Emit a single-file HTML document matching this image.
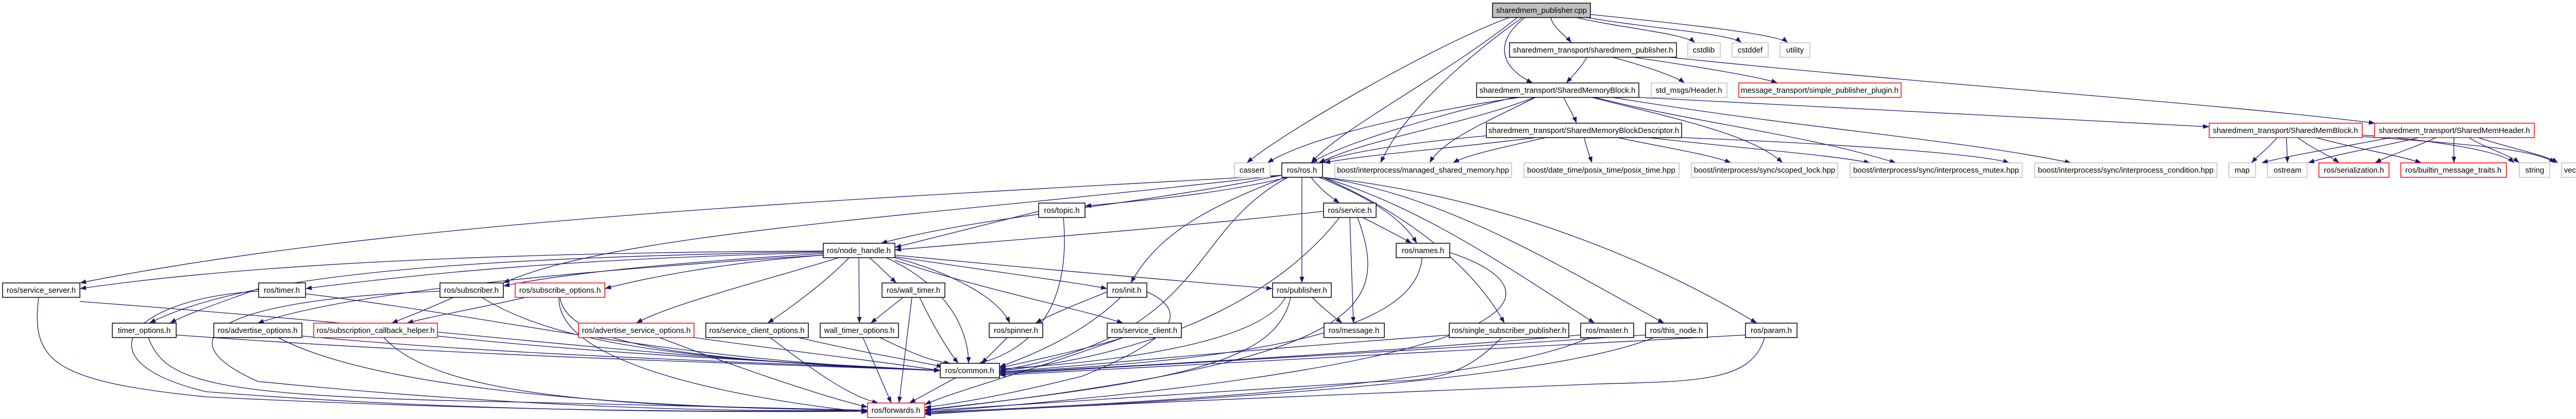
<!DOCTYPE html>
<html><head><meta charset="utf-8"><style>
html,body{margin:0;padding:0;background:#fff;}
svg{display:block;}
text{font-family:"Liberation Sans",sans-serif;font-size:15px;fill:#000;text-anchor:middle;}
.e{fill:none;stroke:#191970;stroke-width:1.3;marker-end:url(#a);}
.b{fill:#fff;stroke:#000;stroke-width:1.5;}
.r{fill:#fff;stroke:#ff0000;stroke-width:1.5;}
.g{fill:#fff;stroke:#bfbfbf;stroke-width:1.5;}
</style></head><body>
<svg width="5028" height="813" viewBox="0 0 5028 813" xmlns="http://www.w3.org/2000/svg">
<defs><marker id="a" markerUnits="userSpaceOnUse" markerWidth="13" markerHeight="10" refX="12" refY="4.5" orient="auto"><path d="M0,0 L12,4.5 L0,9 z" fill="#191970"/></marker></defs>
<g>
<path class="e" d="M3010 34 C3015 55 3040 70 3050 83"/>
<path class="e" d="M3060 34 C3150 55 3270 65 3290 83"/>
<path class="e" d="M3080 34 C3200 55 3360 65 3380 83"/>
<path class="e" d="M3087 28 C3250 45 3450 65 3470 83"/>
<path class="e" d="M2960 34 C2900 80 2910 130 2975 161"/>
<path class="e" d="M2955 34 C2860 100 2720 220 2680 316"/>
<path class="e" d="M2930 34 C2800 80 2500 250 2420 316"/>
<path class="e" d="M2945 34 C2800 150 2600 250 2545 316"/>
<path class="e" d="M3080 111 C3070 130 3050 150 3040 161"/>
<path class="e" d="M3130 111 C3200 130 3255 150 3270 161"/>
<path class="e" d="M3170 111 C3300 130 3420 150 3450 161"/>
<path class="e" d="M3240 111 C3700 160 4300 200 4610 239"/>
<path class="e" d="M2940 189 C2800 220 2600 280 2545 316"/>
<path class="e" d="M2978 189 C2850 240 2650 270 2560 316"/>
<path class="e" d="M2950 189 C2800 210 2550 260 2460 316"/>
<path class="e" d="M2980 189 C2900 230 2800 270 2775 316"/>
<path class="e" d="M3035 189 C3045 210 3055 225 3060 239"/>
<path class="e" d="M3090 189 C3250 230 3400 260 3460 316"/>
<path class="e" d="M3095 189 C3300 240 3500 260 3680 316"/>
<path class="e" d="M3130 189 C3500 250 3800 270 4020 316"/>
<path class="e" d="M3181 189 C3600 210 4000 230 4288 246"/>
<path class="e" d="M2890 263 C2700 280 2600 300 2560 316"/>
<path class="e" d="M2980 267 C2800 290 2650 300 2570 316"/>
<path class="e" d="M3000 267 C2900 290 2850 300 2820 316"/>
<path class="e" d="M3075 267 C3080 290 3085 300 3090 316"/>
<path class="e" d="M3140 267 C3250 290 3320 300 3360 316"/>
<path class="e" d="M3200 267 C3400 290 3550 300 3630 316"/>
<path class="e" d="M3264 267 C3600 280 3850 300 3900 316"/>
<path class="e" d="M4420 267 C4400 290 4385 300 4370 316"/>
<path class="e" d="M4438 267 L4440 316"/>
<path class="e" d="M4460 267 C4490 290 4520 300 4540 316"/>
<path class="e" d="M4495 267 C4580 290 4650 300 4700 316"/>
<path class="e" d="M4585 262 C4700 270 4850 290 4880 316"/>
<path class="e" d="M4585 265 C4800 280 4920 290 4960 316"/>
<path class="e" d="M4640 267 C4550 285 4450 300 4390 316"/>
<path class="e" d="M4695 267 C4620 285 4530 300 4480 316"/>
<path class="e" d="M4728 267 C4690 285 4640 300 4610 316"/>
<path class="e" d="M4763 267 L4763 316"/>
<path class="e" d="M4792 267 C4830 290 4870 300 4890 316"/>
<path class="e" d="M4810 267 C4880 290 4940 300 4965 316"/>
<path class="e" d="M2488 340 C1800 380 800 420 155 549"/>
<path class="e" d="M2488 340 C2200 400 1900 420 1710 472"/>
<path class="e" d="M2500 344 C2350 380 2200 390 2106 400"/>
<path class="e" d="M2545 344 C2560 365 2580 380 2600 394"/>
<path class="e" d="M2560 344 C2650 380 2720 420 2750 472"/>
<path class="e" d="M2495 344 C2350 400 2250 450 2195 549"/>
<path class="e" d="M2527 344 L2527 549"/>
<path class="e" d="M2500 344 C2300 450 2350 650 1940 719"/>
<path class="e" d="M2567 344 C2700 400 2850 500 2920 627"/>
<path class="e" d="M2567 344 C2750 400 2900 500 3095 627"/>
<path class="e" d="M2567 344 C2800 380 3000 500 3230 627"/>
<path class="e" d="M2567 344 C2900 380 3200 500 3410 627"/>
<path class="e" d="M2488 340 C1800 420 1200 450 977 549"/>
<path class="e" d="M2016 410 C1900 440 1800 465 1737 480"/>
<path class="e" d="M2064 422 C2080 600 2000 680 1900 705"/>
<path class="e" d="M2569 410 C2200 450 1900 470 1737 485"/>
<path class="e" d="M2645 422 C2680 440 2720 460 2740 472"/>
<path class="e" d="M2620 422 L2627 627"/>
<path class="e" d="M2600 422 C2500 550 2300 680 1940 720"/>
<path class="e" d="M2635 422 C2700 600 2650 700 1795 796"/>
<path class="e" d="M2760 500 C2750 650 2400 700 1940 722"/>
<path class="e" d="M2814 490 C3000 550 3100 700 1795 800"/>
<path class="e" d="M1598 487 C1000 490 500 510 155 560"/>
<path class="e" d="M1598 490 C1200 500 900 520 593 560"/>
<path class="e" d="M1598 492 C1300 510 1100 530 977 555"/>
<path class="e" d="M1598 495 C1400 510 1250 540 1174 560"/>
<path class="e" d="M1598 488 C1000 500 500 520 290 627"/>
<path class="e" d="M1598 495 C1200 520 700 560 500 627"/>
<path class="e" d="M1628 500 C1500 540 1300 590 1235 627"/>
<path class="e" d="M1648 500 C1600 550 1530 600 1490 627"/>
<path class="e" d="M1667 500 L1668 627"/>
<path class="e" d="M1688 500 C1710 520 1730 540 1740 549"/>
<path class="e" d="M1720 500 C1850 560 1880 650 1880 705"/>
<path class="e" d="M1737 500 C1850 530 1940 580 1960 627"/>
<path class="e" d="M1737 505 C1900 560 2100 600 2180 627"/>
<path class="e" d="M1737 498 C1950 530 2100 550 2149 560"/>
<path class="e" d="M1737 495 C2100 530 2350 550 2470 560"/>
<path class="e" d="M75 577 C60 700 100 740 400 770 C1000 800 1500 800 1684 796"/>
<path class="e" d="M155 585 C900 640 1300 700 1825 719"/>
<path class="e" d="M502 560 C420 590 360 610 330 627"/>
<path class="e" d="M593 570 C1000 620 1300 700 1825 719"/>
<path class="e" d="M502 565 C250 580 150 700 400 760 C900 800 1400 800 1684 798"/>
<path class="e" d="M880 577 C830 600 790 615 760 627"/>
<path class="e" d="M935 577 C1100 680 1400 700 1825 719"/>
<path class="e" d="M854 565 C450 580 300 650 500 740 C1000 790 1400 800 1684 796"/>
<path class="e" d="M1020 577 C920 600 830 615 790 627"/>
<path class="e" d="M1087 577 C1100 680 1400 700 1825 719"/>
<path class="e" d="M1085 577 C1080 700 1400 770 1684 800"/>
<path class="e" d="M342 650 C900 690 1300 700 1825 719"/>
<path class="e" d="M288 655 C320 740 400 770 1000 780 C1400 790 1684 796 1684 796"/>
<path class="e" d="M586 652 C1000 690 1400 700 1825 719"/>
<path class="e" d="M540 655 C700 740 1100 790 1684 796"/>
<path class="e" d="M849 652 C1200 690 1500 700 1825 719"/>
<path class="e" d="M745 655 C850 770 1200 790 1684 796"/>
<path class="e" d="M1347 655 C1600 690 1700 700 1825 719"/>
<path class="e" d="M1280 655 C1450 720 1600 770 1684 790"/>
<path class="e" d="M1550 655 C1700 690 1780 700 1830 712"/>
<path class="e" d="M1495 655 C1580 720 1650 770 1705 782"/>
<path class="e" d="M1708 655 C1760 680 1800 700 1845 705"/>
<path class="e" d="M1675 655 L1730 782"/>
<path class="e" d="M1753 577 L1690 627"/>
<path class="e" d="M1770 577 L1745 782"/>
<path class="e" d="M1785 577 C1810 630 1840 680 1860 705"/>
<path class="e" d="M2150 566 C2090 590 2040 610 2010 627"/>
<path class="e" d="M2175 577 C2100 650 2000 690 1940 712"/>
<path class="e" d="M2226 566 C2300 600 2300 650 2100 730 C1900 780 1800 790 1795 790"/>
<path class="e" d="M1955 655 L1905 705"/>
<path class="e" d="M2180 655 C2100 680 2000 700 1940 714"/>
<path class="e" d="M2180 655 C2000 720 1850 760 1795 785"/>
<path class="e" d="M1855 733 L1765 782"/>
<path class="e" d="M2547 577 C2570 600 2590 615 2605 627"/>
<path class="e" d="M2495 577 C2450 660 2200 700 1940 716"/>
<path class="e" d="M2505 577 C2480 700 2300 740 1795 795"/>
<path class="e" d="M2813 650 C2400 680 2100 710 1940 722"/>
<path class="e" d="M2915 655 C2850 720 2800 740 2680 740 C2200 770 1900 790 1795 797"/>
<path class="e" d="M3068 650 C2600 690 2100 715 1940 724"/>
<path class="e" d="M3085 655 C2900 740 2300 780 1795 800"/>
<path class="e" d="M3194 650 C2600 690 2100 715 1940 726"/>
<path class="e" d="M3210 655 C3000 740 2300 780 1795 802"/>
<path class="e" d="M3388 650 C2700 690 2100 720 1940 728"/>
<path class="e" d="M3425 655 C3400 740 3300 740 3100 745 C2500 770 2000 790 1795 804"/>
</g>
<g>
<rect x="2897" y="6" width="190" height="28" fill="#bfbfbf" stroke="#000" stroke-width="1.5"/><text x="2992" y="25">sharedmem_publisher.cpp</text>
<rect class="b" x="2930" y="83" width="324" height="28"/><text x="3092" y="102">sharedmem_transport/sharedmem_publisher.h</text>
<rect class="g" x="3276" y="83" width="63" height="28"/><text x="3307" y="102">cstdlib</text>
<rect class="g" x="3362" y="83" width="70" height="28"/><text x="3397" y="102">cstddef</text>
<rect class="g" x="3455" y="83" width="58" height="28"/><text x="3484" y="102">utility</text>
<rect class="b" x="2866" y="161" width="315" height="28"/><text x="3023" y="180">sharedmem_transport/SharedMemoryBlock.h</text>
<rect class="g" x="3205" y="161" width="147" height="28"/><text x="3278" y="180">std_msgs/Header.h</text>
<rect class="r" x="3375" y="161" width="315" height="28"/><text x="3532" y="180">message_transport/simple_publisher_plugin.h</text>
<rect class="b" x="2885" y="239" width="379" height="28"/><text x="3074" y="258">sharedmem_transport/SharedMemoryBlockDescriptor.h</text>
<rect class="r" x="4288" y="239" width="297" height="28"/><text x="4436" y="258">sharedmem_transport/SharedMemBlock.h</text>
<rect class="r" x="4609" y="239" width="310" height="28"/><text x="4764" y="258">sharedmem_transport/SharedMemHeader.h</text>
<rect class="g" x="2396" y="316" width="69" height="28"/><text x="2430" y="335">cassert</text>
<rect class="b" x="2488" y="316" width="79" height="28"/><text x="2527" y="335">ros/ros.h</text>
<rect class="g" x="2591" y="316" width="343" height="28"/><text x="2762" y="335">boost/interprocess/managed_shared_memory.hpp</text>
<rect class="g" x="2958" y="316" width="301" height="28"/><text x="3108" y="335">boost/date_time/posix_time/posix_time.hpp</text>
<rect class="g" x="3283" y="316" width="284" height="28"/><text x="3425" y="335">boost/interprocess/sync/scoped_lock.hpp</text>
<rect class="g" x="3591" y="316" width="334" height="28"/><text x="3758" y="335">boost/interprocess/sync/interprocess_mutex.hpp</text>
<rect class="g" x="3949" y="316" width="354" height="28"/><text x="4126" y="335">boost/interprocess/sync/interprocess_condition.hpp</text>
<rect class="g" x="4326" y="316" width="52" height="28"/><text x="4352" y="335">map</text>
<rect class="g" x="4401" y="316" width="77" height="28"/><text x="4440" y="335">ostream</text>
<rect class="r" x="4501" y="316" width="136" height="28"/><text x="4569" y="335">ros/serialization.h</text>
<rect class="r" x="4660" y="316" width="205" height="28"/><text x="4762" y="335">ros/builtin_message_traits.h</text>
<rect class="g" x="4890" y="316" width="59" height="28"/><text x="4920" y="335">string</text>
<rect class="g" x="4972" y="316" width="51" height="28"/><text x="4997" y="335">vector</text>
<rect class="b" x="2016" y="394" width="90" height="28"/><text x="2061" y="413">ros/topic.h</text>
<rect class="b" x="2569" y="394" width="102" height="28"/><text x="2620" y="413">ros/service.h</text>
<rect class="b" x="1598" y="472" width="139" height="28"/><text x="1667" y="491">ros/node_handle.h</text>
<rect class="b" x="2710" y="472" width="104" height="28"/><text x="2762" y="491">ros/names.h</text>
<rect class="b" x="5" y="549" width="150" height="28"/><text x="80" y="568">ros/service_server.h</text>
<rect class="b" x="502" y="549" width="91" height="28"/><text x="547" y="568">ros/timer.h</text>
<rect class="b" x="854" y="549" width="123" height="28"/><text x="915" y="568">ros/subscriber.h</text>
<rect class="r" x="1000" y="549" width="174" height="28"/><text x="1087" y="568">ros/subscribe_options.h</text>
<rect class="b" x="1712" y="549" width="122" height="28"/><text x="1773" y="568">ros/wall_timer.h</text>
<rect class="b" x="2149" y="549" width="77" height="28"/><text x="2187" y="568">ros/init.h</text>
<rect class="b" x="2470" y="549" width="114" height="28"/><text x="2527" y="568">ros/publisher.h</text>
<rect class="b" x="218" y="627" width="124" height="28"/><text x="280" y="646">timer_options.h</text>
<rect class="b" x="415" y="627" width="171" height="28"/><text x="500" y="646">ros/advertise_options.h</text>
<rect class="r" x="609" y="627" width="240" height="28"/><text x="729" y="646">ros/subscription_callback_helper.h</text>
<rect class="r" x="1123" y="627" width="224" height="28"/><text x="1235" y="646">ros/advertise_service_options.h</text>
<rect class="b" x="1370" y="627" width="199" height="28"/><text x="1469" y="646">ros/service_client_options.h</text>
<rect class="b" x="1592" y="627" width="152" height="28"/><text x="1668" y="646">wall_timer_options.h</text>
<rect class="b" x="1920" y="627" width="104" height="28"/><text x="1972" y="646">ros/spinner.h</text>
<rect class="b" x="2149" y="627" width="144" height="28"/><text x="2221" y="646">ros/service_client.h</text>
<rect class="b" x="2570" y="627" width="117" height="28"/><text x="2628" y="646">ros/message.h</text>
<rect class="b" x="2813" y="627" width="232" height="28"/><text x="2929" y="646">ros/single_subscriber_publisher.h</text>
<rect class="b" x="3068" y="627" width="103" height="28"/><text x="3119" y="646">ros/master.h</text>
<rect class="b" x="3194" y="627" width="120" height="28"/><text x="3254" y="646">ros/this_node.h</text>
<rect class="b" x="3388" y="627" width="100" height="28"/><text x="3438" y="646">ros/param.h</text>
<rect class="b" x="1825" y="705" width="115" height="28"/><text x="1882" y="724">ros/common.h</text>
<rect class="r" x="1684" y="782" width="111" height="28"/><text x="1739" y="801">ros/forwards.h</text>
</g>
</svg>
</body></html>
